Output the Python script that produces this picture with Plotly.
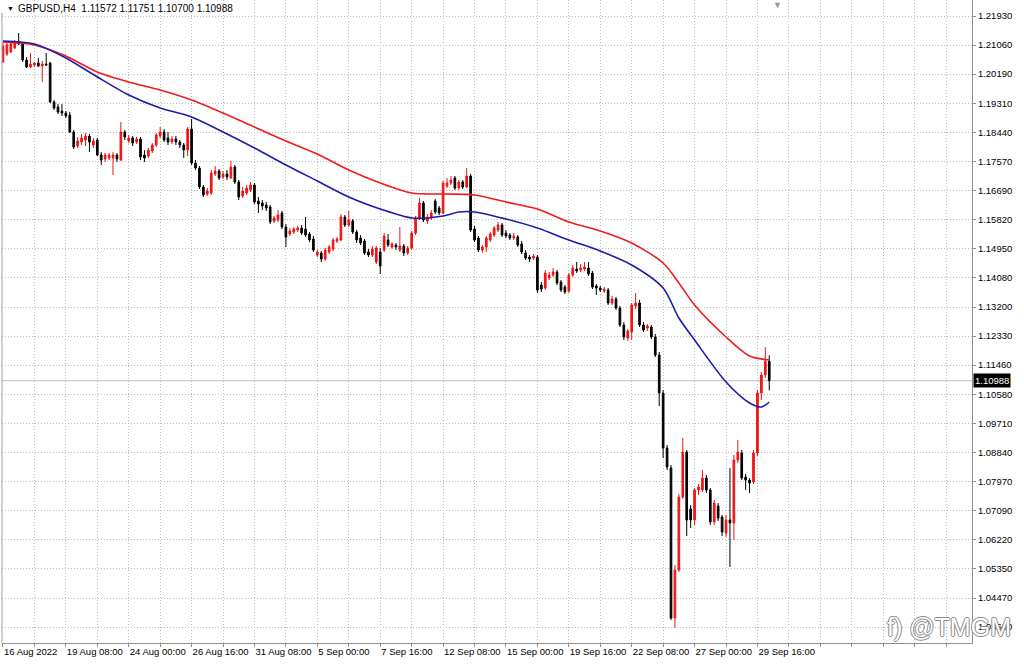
import plotly.graph_objects as go

# ---------------- data ----------------
symbol_title = "GBPUSD,H4  1.11572 1.11751 1.10700 1.10988"
time_labels = ["16 Aug 2022", "19 Aug 08:00", "24 Aug 00:00", "26 Aug 16:00", "31 Aug 08:00",
               "5 Sep 00:00", "7 Sep 16:00", "12 Sep 08:00", "15 Sep 00:00", "19 Sep 16:00",
               "22 Sep 08:00", "27 Sep 00:00", "29 Sep 16:00"]
price_ticks = [1.21930, 1.21060, 1.20190, 1.19310, 1.18440, 1.17570, 1.16690, 1.15820, 1.14950,
               1.14080, 1.13200, 1.12330, 1.11460, 1.10580, 1.09710, 1.08840, 1.07970, 1.07090,
               1.06220, 1.05350, 1.04470, 1.03600]
last_price = 1.10988

opens = [1.2055, 1.2079, 1.2085, 1.2097, 1.2115, 1.2109, 1.2061, 1.2040, 1.2046, 1.2052,
         1.2043, 1.2049, 1.2052, 1.1935, 1.1920, 1.1908, 1.1902, 1.1896, 1.1845, 1.1803,
         1.1815, 1.1821, 1.1833, 1.1806, 1.1821, 1.1776, 1.1764, 1.1767, 1.1767, 1.1776,
         1.1761, 1.1845, 1.1818, 1.1827, 1.1815, 1.1824, 1.1776, 1.1773, 1.1788, 1.1806,
         1.1833, 1.1845, 1.1827, 1.1815, 1.1824, 1.1815, 1.1806, 1.1791, 1.1854, 1.1752,
         1.1737, 1.1680, 1.1659, 1.1662, 1.1719, 1.1728, 1.1710, 1.1719, 1.1707, 1.1740,
         1.1695, 1.1653, 1.1662, 1.1671, 1.1686, 1.1638, 1.1632, 1.1626, 1.1620, 1.1578,
         1.1581, 1.1602, 1.1560, 1.1539, 1.1545, 1.1551, 1.1557, 1.1554, 1.1539, 1.1524,
         1.1476, 1.1482, 1.1464, 1.1485, 1.1494, 1.1518, 1.1521, 1.1590, 1.1566, 1.1578,
         1.1545, 1.1527, 1.1518, 1.1485, 1.1476, 1.1455, 1.1485, 1.1491, 1.1521, 1.1500,
         1.1506, 1.1491, 1.1503, 1.1482, 1.1497, 1.1542, 1.1587, 1.1632, 1.1578, 1.1587,
         1.1638, 1.1617, 1.1602, 1.1683, 1.1692, 1.1707, 1.1677, 1.1695, 1.1680, 1.1713,
         1.1554, 1.1527, 1.1491, 1.1500, 1.1521, 1.1536, 1.1551, 1.1566, 1.1542, 1.1536,
         1.1527, 1.1530, 1.1509, 1.1482, 1.1470, 1.1467, 1.1470, 1.1386, 1.1377, 1.1407,
         1.1416, 1.1425, 1.1395, 1.1380, 1.1368, 1.1416, 1.1434, 1.1431, 1.1434, 1.1437,
         1.1422, 1.1383, 1.1377, 1.1368, 1.1371, 1.1332, 1.1344, 1.1317, 1.1266, 1.1227,
         1.1245, 1.1323, 1.1332, 1.1266, 1.1257, 1.1260, 1.1230, 1.1176, 1.1062, 1.0897,
         1.0837, 1.0387, 1.0531, 1.0750, 1.0885, 1.0714, 1.0681, 1.0771, 1.0771, 1.0807,
         1.0771, 1.0675, 1.0723, 1.0690, 1.0642, 1.0681, 1.0672, 1.0861, 1.0882, 1.0810,
         1.0801, 1.0795, 1.0882, 1.1062, 1.1116, 1.11572]
highs = [1.2115, 1.2115, 1.2118, 1.2121, 1.2142, 1.2115, 1.2070, 1.2082, 1.2055, 1.2067,
         1.2058, 1.2082, 1.2055, 1.1941, 1.1929, 1.1929, 1.1908, 1.1905, 1.1851, 1.1830,
         1.1839, 1.1842, 1.1839, 1.1827, 1.1827, 1.1785, 1.1782, 1.1782, 1.1785, 1.1782,
         1.1875, 1.1851, 1.1836, 1.1833, 1.1830, 1.1830, 1.1791, 1.1797, 1.1812, 1.1842,
         1.1860, 1.1854, 1.1845, 1.1833, 1.1833, 1.1821, 1.1812, 1.1860, 1.1884, 1.1761,
         1.1743, 1.1686, 1.1677, 1.1731, 1.1743, 1.1734, 1.1728, 1.1731, 1.1758, 1.1746,
         1.1701, 1.1680, 1.1686, 1.1695, 1.1692, 1.1650, 1.1641, 1.1635, 1.1626, 1.1593,
         1.1611, 1.1608, 1.1569, 1.1557, 1.1560, 1.1563, 1.1566, 1.1590, 1.1545, 1.1533,
         1.1491, 1.1488, 1.1497, 1.1506, 1.1527, 1.1530, 1.1599, 1.1596, 1.1608, 1.1584,
         1.1551, 1.1536, 1.1524, 1.1494, 1.1503, 1.1503, 1.1497, 1.1542, 1.1539, 1.1515,
         1.1512, 1.1560, 1.1509, 1.1503, 1.1548, 1.1593, 1.1647, 1.1638, 1.1599, 1.1611,
         1.1644, 1.1623, 1.1698, 1.1707, 1.1713, 1.1713, 1.1701, 1.1701, 1.1737, 1.1719,
         1.1563, 1.1533, 1.1506, 1.1533, 1.1545, 1.1563, 1.1575, 1.1572, 1.1551, 1.1542,
         1.1542, 1.1536, 1.1518, 1.1491, 1.1476, 1.1479, 1.1476, 1.1395, 1.1431, 1.1425,
         1.1437, 1.1431, 1.1401, 1.1386, 1.1422, 1.1446, 1.1455, 1.1449, 1.1455, 1.1455,
         1.1428, 1.1389, 1.1383, 1.1380, 1.1377, 1.1353, 1.1350, 1.1323, 1.1275, 1.1254,
         1.1332, 1.1362, 1.1341, 1.1275, 1.1269, 1.1266, 1.1239, 1.1185, 1.1071, 1.0906,
         1.0846, 1.0546, 1.0759, 1.0927, 1.0891, 1.0726, 1.0777, 1.0789, 1.0831, 1.0816,
         1.0777, 1.0741, 1.0732, 1.0696, 1.0696, 1.0837, 1.0876, 1.0921, 1.0891, 1.0819,
         1.0807, 1.0891, 1.1071, 1.1125, 1.1200, 1.11751]
lows = [1.2052, 1.2073, 1.2082, 1.2094, 1.2106, 1.2055, 1.2037, 1.2037, 1.2040, 1.2040,
        1.1995, 1.2043, 1.1932, 1.1911, 1.1899, 1.1893, 1.1887, 1.1842, 1.1794, 1.1797,
        1.1806, 1.1803, 1.1785, 1.1797, 1.1773, 1.1746, 1.1755, 1.1761, 1.1716, 1.1755,
        1.1758, 1.1821, 1.1812, 1.1803, 1.1809, 1.1761, 1.1755, 1.1767, 1.1782, 1.1800,
        1.1827, 1.1815, 1.1806, 1.1809, 1.1806, 1.1797, 1.1767, 1.1773, 1.1746, 1.1731,
        1.1674, 1.1650, 1.1653, 1.1656, 1.1713, 1.1701, 1.1704, 1.1701, 1.1704, 1.1689,
        1.1641, 1.1647, 1.1656, 1.1665, 1.1629, 1.1602, 1.1611, 1.1608, 1.1569, 1.1572,
        1.1575, 1.1554, 1.1500, 1.1533, 1.1539, 1.1545, 1.1536, 1.1530, 1.1515, 1.1485,
        1.1470, 1.1455, 1.1458, 1.1479, 1.1488, 1.1512, 1.1518, 1.1560, 1.1560, 1.1539,
        1.1512, 1.1506, 1.1476, 1.1470, 1.1470, 1.1449, 1.1419, 1.1485, 1.1500, 1.1494,
        1.1491, 1.1485, 1.1473, 1.1476, 1.1491, 1.1536, 1.1581, 1.1575, 1.1569, 1.1581,
        1.1599, 1.1596, 1.1599, 1.1677, 1.1686, 1.1671, 1.1671, 1.1674, 1.1677, 1.1545,
        1.1515, 1.1485, 1.1482, 1.1485, 1.1515, 1.1530, 1.1545, 1.1530, 1.1527, 1.1521,
        1.1521, 1.1500, 1.1479, 1.1461, 1.1455, 1.1461, 1.1362, 1.1365, 1.1371, 1.1401,
        1.1410, 1.1386, 1.1365, 1.1359, 1.1362, 1.1410, 1.1422, 1.1425, 1.1428, 1.1413,
        1.1374, 1.1356, 1.1365, 1.1362, 1.1326, 1.1326, 1.1311, 1.1260, 1.1221, 1.1218,
        1.1221, 1.1314, 1.1260, 1.1245, 1.1248, 1.1224, 1.1170, 1.1023, 1.0867, 1.0831,
        1.0381, 1.0357, 1.0525, 1.0744, 1.0633, 1.0657, 1.0666, 1.0756, 1.0765, 1.0762,
        1.0666, 1.0666, 1.0678, 1.0633, 1.0630, 1.0540, 1.0621, 1.0852, 1.0801, 1.0771,
        1.0762, 1.0789, 1.0873, 1.1041, 1.1107, 1.10700]
closes = [1.2103, 1.2106, 1.2109, 1.2115, 1.2109, 1.2061, 1.2040, 1.2049, 1.2052, 1.2043,
          1.2049, 1.2046, 1.1935, 1.1917, 1.1905, 1.1902, 1.1893, 1.1845, 1.1800, 1.1818,
          1.1827, 1.1833, 1.1815, 1.1818, 1.1776, 1.1761, 1.1776, 1.1776, 1.1776, 1.1764,
          1.1845, 1.1830, 1.1827, 1.1812, 1.1824, 1.1770, 1.1767, 1.1791, 1.1806, 1.1836,
          1.1845, 1.1821, 1.1815, 1.1824, 1.1815, 1.1806, 1.1791, 1.1854, 1.1752, 1.1737,
          1.1680, 1.1656, 1.1668, 1.1722, 1.1728, 1.1707, 1.1719, 1.1710, 1.1740, 1.1695,
          1.1650, 1.1668, 1.1677, 1.1686, 1.1635, 1.1629, 1.1623, 1.1617, 1.1575, 1.1587,
          1.1596, 1.1560, 1.1530, 1.1548, 1.1554, 1.1557, 1.1542, 1.1536, 1.1521, 1.1491,
          1.1485, 1.1464, 1.1491, 1.1500, 1.1521, 1.1524, 1.1590, 1.1566, 1.1581, 1.1545,
          1.1521, 1.1512, 1.1482, 1.1476, 1.1494, 1.1497, 1.1443, 1.1533, 1.1506, 1.1509,
          1.1500, 1.1503, 1.1482, 1.1497, 1.1542, 1.1587, 1.1632, 1.1581, 1.1590, 1.1602,
          1.1605, 1.1602, 1.1692, 1.1692, 1.1701, 1.1677, 1.1695, 1.1680, 1.1713, 1.1551,
          1.1521, 1.1491, 1.1500, 1.1527, 1.1539, 1.1557, 1.1566, 1.1536, 1.1533, 1.1527,
          1.1533, 1.1506, 1.1485, 1.1467, 1.1464, 1.1473, 1.1371, 1.1374, 1.1422, 1.1416,
          1.1425, 1.1392, 1.1371, 1.1365, 1.1416, 1.1437, 1.1428, 1.1437, 1.1440, 1.1419,
          1.1380, 1.1377, 1.1371, 1.1374, 1.1332, 1.1344, 1.1317, 1.1266, 1.1230, 1.1248,
          1.1326, 1.1332, 1.1266, 1.1251, 1.1263, 1.1230, 1.1176, 1.1062, 1.0897, 1.0840,
          1.0387, 1.0531, 1.0750, 1.0885, 1.0681, 1.0681, 1.0771, 1.0780, 1.0807, 1.0771,
          1.0675, 1.0732, 1.0687, 1.0645, 1.0681, 1.0672, 1.0861, 1.0885, 1.0807, 1.0801,
          1.0792, 1.0882, 1.1062, 1.1116, 1.11572, 1.10988]

ma_slow_idx = [0, 8, 16, 24, 32, 40, 48, 56, 64, 72, 80, 88, 96, 104, 112, 120, 128, 136,
               144, 152, 160, 168, 172, 176, 184, 190, 195]
ma_slow = [1.2115, 1.2106, 1.2073, 1.2025, 1.1995, 1.1971, 1.1941, 1.1902, 1.1860, 1.1818,
           1.1779, 1.1731, 1.1692, 1.1662, 1.1659, 1.1656, 1.1635, 1.1614, 1.1575, 1.1548,
           1.1512, 1.1452, 1.1392, 1.1326, 1.1230, 1.1173, 1.1161]
ma_fast_idx = [0, 8, 16, 24, 32, 40, 48, 56, 64, 72, 80, 88, 96, 104, 112, 116, 120, 128,
               136, 144, 152, 160, 168, 172, 176, 184, 190, 193, 195]
ma_fast = [1.2118, 1.2109, 1.2067, 1.2010, 1.1956, 1.1917, 1.1890, 1.1845, 1.1797, 1.1746,
           1.1698, 1.1650, 1.1614, 1.1587, 1.1593, 1.1605, 1.1605, 1.1584, 1.1557, 1.1521,
           1.1488, 1.1446, 1.1377, 1.1287, 1.1221, 1.1095, 1.1032, 1.1020, 1.1035]

# ---------------- figure ----------------
n_bars = len(closes)
bar_idx = list(range(n_bars))
grid_step = 8
label_step = 16
x_max = 246.6
grid_vals = list(range(0, int(x_max) + 1, grid_step))
grid_text = []
for v in grid_vals:
    k = v // label_step
    if v % label_step == 0 and k < len(time_labels):
        grid_text.append(time_labels[k])
    else:
        grid_text.append("")

FONT = "Liberation Sans, Arial, sans-serif"
GRID = "#bcbcbc"
GRID_DASH = "1px,2px"

fig = go.Figure()

fig.add_trace(go.Candlestick(
    x=bar_idx, open=opens, high=highs, low=lows, close=closes,
    increasing=dict(line=dict(color="#f01414", width=1), fillcolor="#f01414"),
    decreasing=dict(line=dict(color="#000000", width=1), fillcolor="#000000"),
    whiskerwidth=0, hoverinfo="skip", showlegend=False,
))
fig.add_trace(go.Scatter(
    x=ma_slow_idx, y=ma_slow, mode="lines",
    line=dict(color="#ee1c1c", width=1.6, shape="spline", smoothing=0.8),
    hoverinfo="skip", showlegend=False,
))
fig.add_trace(go.Scatter(
    x=ma_fast_idx, y=ma_fast, mode="lines",
    line=dict(color="#1c1ca8", width=1.6, shape="spline", smoothing=0.8),
    hoverinfo="skip", showlegend=False,
))

# current price line
fig.add_shape(type="line", xref="paper", x0=0, x1=1, yref="y", y0=last_price, y1=last_price,
              line=dict(color="#bdbdbd", width=1), layer="below")
# left border
fig.add_shape(type="line", xref="paper", x0=0, x1=0, yref="paper", y0=0, y1=0.98,
              line=dict(color="#a0a0a0", width=1))

fig.add_annotation(xref="paper", yref="y", x=1, y=last_price, xanchor="left", yanchor="middle",
                   xshift=1, text=f"{last_price:.5f}", showarrow=False,
                   bgcolor="#000000", font=dict(color="#ffffff", size=9.5, family=FONT),
                   borderpad=1)
fig.add_annotation(xref="paper", yref="paper", x=0, y=1, xanchor="left", yanchor="middle",
                   xshift=3, yshift=-8, text="▼", showarrow=False,
                   font=dict(color="#000000", size=7, family=FONT))
fig.add_annotation(xref="paper", yref="paper", x=0, y=1, xanchor="left", yanchor="middle",
                   xshift=14, yshift=-8, text=symbol_title, showarrow=False,
                   font=dict(color="#000000", size=10, family=FONT))
fig.add_annotation(xref="x", yref="paper", x=197.2, y=1, xanchor="center", yanchor="top",
                   yshift=2, text="▼", showarrow=False,
                   font=dict(color="#9a9a9a", size=9, family=FONT))
fig.add_annotation(xref="paper", yref="paper", x=1.042, y=0.025, xanchor="right",
                   yanchor="middle", text="f) @TMGM", showarrow=False,
                   font=dict(color="#ffffff", size=25, family=FONT,
                             shadow="-1px 0 #8a8a8a, 1px 0 #8a8a8a, 0 -1px #8a8a8a, 0 1px #8a8a8a"))

fig.update_layout(
    width=1024, height=664,
    margin=dict(l=2, r=52, t=0, b=21, autoexpand=False),
    paper_bgcolor="#ffffff", plot_bgcolor="#ffffff",
    showlegend=False, hovermode=False,
    boxgap=0.4,
    xaxis=dict(
        range=[-0.25, x_max], rangeslider=dict(visible=False),
        tickmode="array", tickvals=grid_vals, ticktext=grid_text, tickangle=0,
        ticks="outside", ticklen=3, tickcolor="#909090",
        ticklabelposition="outside right",
        showgrid=True, gridcolor=GRID, griddash=GRID_DASH, gridwidth=1,
        showline=True, linecolor="#909090", linewidth=1,
        zeroline=False, fixedrange=True,
        tickfont=dict(size=9.5, family=FONT, color="#000000"),
    ),
    yaxis=dict(
        side="right", range=[1.0312, 1.2241],
        tickmode="array", tickvals=price_ticks, ticktext=[f"{v:.5f}" for v in price_ticks],
        ticks="outside", ticklen=3, tickcolor="#909090",
        showgrid=True, gridcolor=GRID, griddash=GRID_DASH, gridwidth=1,
        showline=True, linecolor="#909090", linewidth=1,
        zeroline=False, fixedrange=True,
        tickfont=dict(size=9.5, family=FONT, color="#000000"),
    ),
)

fig.write_html("out.html", config={"displayModeBar": False, "staticPlot": True},
               post_script="document.body.style.margin='0px';"
               "document.body.style.padding='0px';")
